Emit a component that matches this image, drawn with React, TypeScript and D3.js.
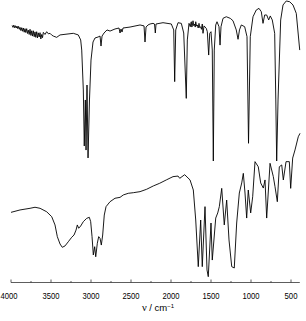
import React from 'react';
import * as d3 from 'd3';

// wavenumber (cm-1), transmittance (%)
const upperSpectrum: [number, number][] = [
  [3985, 84.2], [3975, 83.0], [3965, 84.4], [3955, 82.8], [3945, 84.0], [3935, 82.6],
  [3925, 83.8], [3915, 82.2], [3905, 83.6], [3895, 81.8], [3887, 83.0], [3876, 81.0],
  [3866, 82.8], [3856, 80.6], [3846, 82.6], [3835, 80.0], [3825, 82.2], [3815, 79.8],
  [3804, 82.2], [3794, 79.2], [3784, 81.3], [3773, 78.6], [3762, 81.8], [3751, 78.0],
  [3741, 80.9], [3731, 77.6], [3721, 80.9], [3710, 77.2], [3700, 80.2], [3690, 76.8],
  [3679, 80.3], [3669, 76.4], [3659, 79.6], [3648, 77.0], [3637, 79.7], [3627, 75.8],
  [3616, 78.6], [3606, 76.6], [3596, 79.9], [3575, 78.6], [3554, 80.3], [3533, 79.0],
  [3512, 79.3], [3491, 78.2], [3471, 77.6], [3429, 76.8], [3387, 78.3], [3221, 79.3],
  [3159, 78.3], [3129, 75.2], [3116, 68.9], [3096, 44.1], [3084, 9.3], [3071, 37.9],
  [3062, 6.8], [3050, 47.2], [3037, 1.9], [3019, 37.9], [3000, 62.7], [2975, 73.9],
  [2950, 76.4], [2912, 77.0], [2887, 77.6], [2875, 71.4], [2862, 77.6], [2837, 79.5],
  [2800, 81.4], [2762, 80.7], [2700, 82.0], [2650, 82.6], [2637, 79.5], [2625, 82.0],
  [2612, 80.1], [2600, 82.6], [2512, 83.2], [2387, 84.5], [2337, 83.9], [2325, 73.9],
  [2312, 83.2], [2287, 84.5], [2262, 85.1], [2225, 85.5], [2206, 85.1], [2196, 79.5],
  [2187, 85.1], [2100, 85.9], [1996, 85.1], [1966, 81.4], [1954, 49.3], [1941, 81.4],
  [1912, 85.9], [1871, 85.5], [1841, 79.5], [1809, 38.9], [1796, 75.2], [1775, 85.5],
  [1759, 83.4], [1752, 85.6], [1746, 86.5], [1740, 83.2], [1734, 83.9], [1725, 87.1],
  [1715, 84.0], [1704, 85.1], [1697, 83.2], [1691, 86.5], [1681, 83.8], [1671, 84.5],
  [1660, 82.6], [1650, 85.5], [1640, 82.8], [1629, 83.4], [1619, 81.8], [1609, 85.1],
  [1600, 79.3], [1587, 83.9], [1559, 82.4], [1546, 80.3], [1529, 65.8], [1516, 79.3],
  [1500, 80.3], [1484, 68.9], [1471, 0], [1459, 68.9], [1441, 84.5], [1425, 86.5],
  [1400, 83.4], [1387, 72.0], [1375, 83.4], [1350, 88.6], [1309, 89.6], [1259, 88.6],
  [1225, 87.1], [1184, 81.4], [1162, 75.6], [1144, 81.4], [1121, 84.5], [1079, 83.4],
  [1050, 77.2], [1031, 11.0], [1009, 77.2], [975, 89.6], [934, 93.8], [900, 94.8],
  [871, 92.7], [850, 85.5], [829, 90.7], [804, 90.7], [779, 87.6], [759, 90.1],
  [734, 87.6], [704, 79.3], [690, 37.9], [679, 0], [662, 37.9], [629, 87.6],
  [600, 96.9], [559, 99.4], [516, 98.9], [475, 96.9], [434, 91.7], [391, 68.9],
];

const lowerSpectrum: [number, number][] = [
  [4000, 45.1], [3887, 46.7], [3762, 47.8], [3700, 48.5], [3637, 47.8], [3554, 45.5],
  [3491, 42.2], [3450, 36.7], [3421, 28.9], [3387, 24.0], [3359, 21.8], [3325, 22.7],
  [3284, 25.5], [3241, 28.5], [3212, 30.0], [3187, 33.3], [3171, 36.7], [3154, 34.5],
  [3129, 36.0], [3096, 38.9], [3054, 41.1], [3021, 41.8], [3004, 38.9], [2987, 28.9],
  [2971, 16.7], [2954, 22.2], [2941, 15.5], [2921, 24.5], [2904, 28.9], [2887, 27.8],
  [2871, 23.3], [2854, 30.0], [2834, 43.3], [2812, 48.9], [2762, 52.2], [2700, 54.5],
  [2637, 55.1], [2596, 56.7], [2534, 57.8], [2471, 58.2], [2387, 58.9], [2304, 60.5],
  [2221, 62.7], [2141, 64.5], [2059, 66.7], [1975, 68.9], [1912, 69.3], [1891, 67.8],
  [1829, 70.2], [1762, 66.7], [1721, 60.0], [1691, 40.0], [1659, 8.9], [1629, 40.0],
  [1609, 8.9], [1575, 48.9], [1550, 6.7], [1534, 2.2], [1500, 38.0], [1484, 13.3],
  [1441, 41.3], [1416, 44.7], [1396, 48.9], [1366, 61.1], [1334, 36.7], [1304, 53.3],
  [1275, 26.7], [1241, 8.9], [1209, 8.0], [1179, 38.0], [1146, 58.0], [1116, 64.7],
  [1096, 71.1], [1075, 58.0], [1054, 41.3], [1034, 60.0], [1004, 44.7], [979, 55.5],
  [950, 78.9], [909, 75.5], [879, 64.7], [846, 61.3], [825, 66.7], [804, 41.3],
  [762, 77.8], [721, 68.9], [700, 62.2], [671, 52.2], [646, 75.5], [616, 76.7],
  [596, 66.7], [562, 78.9], [521, 78.9], [504, 61.1], [479, 81.3], [450, 86.7],
  [409, 95.5], [387, 97.8],
];

const majorTicks = [4000, 3500, 3000, 2500, 2000, 1500, 1000, 500];
const minorTicks = [3750, 3250, 2750, 2250, 1750, 1250, 750];

const W = 306;
const H = 321;
const axisY = 282.5;

export default function App() {
  const x = d3.scaleLinear().domain([4000, 500]).range([11, 291]);
  const yUpper = d3.scaleLinear().domain([0, 100]).range([161, 0]);
  const yLower = d3.scaleLinear().domain([0, 100]).range([280, 130]);

  const upperLine = d3.line<[number, number]>().x(d => x(d[0])).y(d => yUpper(d[1]));
  const lowerLine = d3.line<[number, number]>().x(d => x(d[0])).y(d => yLower(d[1]));

  const font = 'Liberation Sans, Arial, sans-serif';

  return (
    <svg width={W} height={H} style={{ position: 'absolute', left: 0, top: 0, background: '#fff' }}>
      <path d={upperLine(upperSpectrum) || ''} fill="none" stroke="#000" strokeWidth={0.9} />
      <path d={lowerLine(lowerSpectrum) || ''} fill="none" stroke="#000" strokeWidth={0.9} />

      <line x1={x(4000)} x2={x(390)} y1={axisY} y2={axisY} stroke="#333" strokeWidth={0.8} />
      {majorTicks.map(t => (
        <line key={t} x1={x(t)} x2={x(t)} y1={axisY} y2={axisY - 3} stroke="#333" strokeWidth={0.8} />
      ))}
      {minorTicks.map(t => (
        <line key={t} x1={x(t)} x2={x(t)} y1={axisY} y2={axisY - 1.5} stroke="#333" strokeWidth={0.8} />
      ))}
      {majorTicks.map(t => (
        <text key={t} x={t === 4000 ? x(t) - 2 : x(t)} y={299} textAnchor="middle"
          fontFamily={font} fontSize={9.5} fill="#000"
          textLength={t >= 1000 ? 17 : 13} lengthAdjust="spacingAndGlyphs">
          {t}
        </text>
      ))}
      <text x={158} y={311} textAnchor="middle" fontFamily={font} fontSize={9.5} fill="#000">
        <tspan fontFamily="Liberation Serif, serif" fontSize={10.5}>ν</tspan>
        <tspan> / cm</tspan>
        <tspan fontSize={6} dy={-3.5}>−1</tspan>
      </text>
    </svg>
  );
}
